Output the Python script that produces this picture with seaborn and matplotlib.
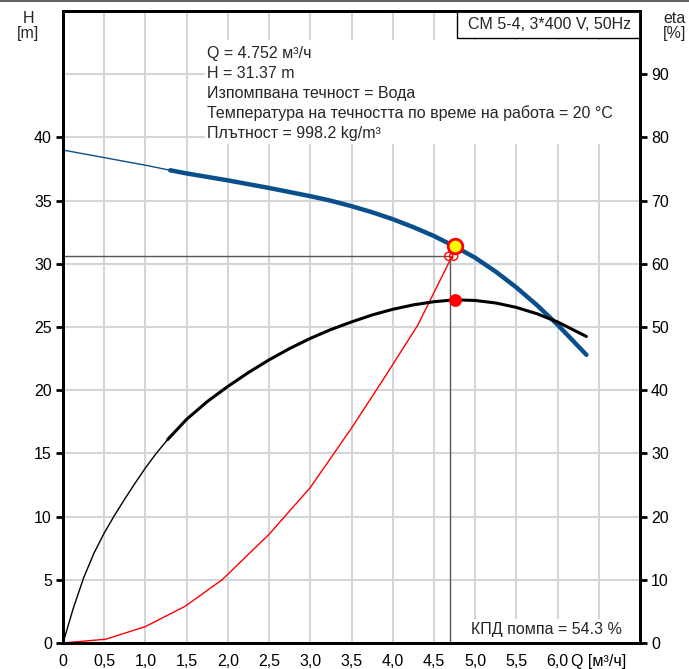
import matplotlib.pyplot as plt
import seaborn as sns
from matplotlib.lines import Line2D
from matplotlib.patches import Rectangle

# pump head curve H(Q)
q_head = [0, 0.5, 1.0, 1.3, 1.5, 2.0, 2.5, 3.0, 3.25, 3.5, 3.75, 4.0, 4.25, 4.5, 4.752,
          5.0, 5.25, 5.5, 5.75, 6.0, 6.35]
head = [39.0, 38.4, 37.8, 37.4, 37.15, 36.6, 36.0, 35.35, 34.99, 34.56, 34.08, 33.53, 32.9,
        32.2, 31.37, 30.48, 29.38, 28.13, 26.73, 25.18, 22.8]

# pump efficiency eta(Q), right axis
q_eta = [0, 0.125, 0.25, 0.375, 0.5, 0.625, 0.75, 0.875, 1.0, 1.125, 1.27, 1.5, 1.75, 2.0,
         2.25, 2.5, 2.75, 3.0, 3.25, 3.5, 3.75, 4.0, 4.25, 4.5, 4.752, 5.0, 5.25, 5.5, 5.75,
         6.0, 6.35]
eta = [0, 5.5, 10.3, 14.2, 17.4, 20.2, 22.8, 25.3, 27.7, 29.9, 32.2, 35.4, 38.2, 40.6,
       42.8, 44.8, 46.6, 48.2, 49.6, 50.8, 51.9, 52.8, 53.5, 54.0, 54.3, 54.2, 53.8, 53.1, 52.1,
       50.8, 48.5]

# system curve
q_sys = [0, 0.52, 1.0, 1.48, 1.93, 2.5, 3.0, 3.5, 3.88, 4.3, 4.72]
h_sys = [0, 0.3, 1.3, 2.9, 5.0, 8.6, 12.3, 17.0, 20.8, 25.1, 30.6]

duty_q, duty_h, duty_eta = 4.752, 31.37, 54.3
cross_q, cross_h = 4.69, 30.6
sys_marks_q = [4.68, 4.74]
sys_marks_h = [30.6, 30.6]
thin_until = 1.3
eta_thin_until = 1.27

x_ticks = [0, 0.5, 1.0, 1.5, 2.0, 2.5, 3.0, 3.5, 4.0, 4.5, 5.0, 5.5, 6.0, 6.5]
x_labels = ["0", "0,5", "1,0", "1,5", "2,0", "2,5", "3,0", "3,5", "4,0", "4,5",
            "5,0", "5,5", "6,0", "Q [м³/ч]"]
h_ticks = [0, 5, 10, 15, 20, 25, 30, 35, 40]
h_grid = [45]
eta_ticks = [0, 10, 20, 30, 40, 50, 60, 70, 80, 90]

info_lines = [
    "Q = 4.752 м³/ч",
    "H = 31.37 m",
    "Изпомпвана течност = Вода",
    "Температура на течността по време на работа = 20 °C",
    "Плътност = 998.2 kg/m³",
]

BLUE = "#0a4f8c"
FS = 11.5
W, H = 689, 669

sns.set_style("white")
plt.rcParams["font.family"] = ["Liberation Sans", "DejaVu Sans"]
plt.rcParams["font.size"] = FS

fig = plt.figure(figsize=(W / 100, H / 100), dpi=100)
ax = fig.add_axes([63 / W, 26 / H, 577 / W, 632 / H])
ax.set_xlim(0, 7)
ax.set_ylim(0, 50)
ax.set_axisbelow(True)

ax.set_xticks(x_ticks)
ax.set_xticklabels(x_labels)
ax.set_yticks(h_ticks)
ax.set_yticks(h_grid, minor=True)
ax.grid(True, which="both", color="#d3d6d9", linewidth=1.5)
ax.tick_params(which="major", direction="out", length=5, width=2, pad=3,
               labelsize=FS, colors="black")
ax.tick_params(which="minor", length=0)
for s in ax.spines.values():
    s.set_linewidth(2)
    s.set_color("black")

# white backgrounds behind the text blocks (they hide the grid)
ax.add_patch(Rectangle((142 / 577, 499 / 632), 435 / 577, 104 / 632,
                       transform=ax.transAxes, facecolor="white", edgecolor="none", zorder=1))
ax.add_patch(Rectangle((404 / 577, 0), 173 / 577, 24 / 632,
                       transform=ax.transAxes, facecolor="white", edgecolor="none", zorder=1))

# system curve + operating cross lines
sns.lineplot(x=q_sys, y=h_sys, ax=ax, color="red", linewidth=1, estimator=None, sort=False)
sns.lineplot(x=[0, cross_q, cross_q], y=[cross_h, cross_h, 0], ax=ax, color="#555555",
             linewidth=1, estimator=None, sort=False)

# head curve: thin outside the recommended range, thick inside
q_thin = [q for q in q_head if q <= thin_until]
h_thin = head[:len(q_thin)]
q_thick = [q for q in q_head if q >= thin_until]
h_thick = head[len(head) - len(q_thick):]
sns.lineplot(x=q_thin, y=h_thin, ax=ax, color=BLUE, linewidth=1, estimator=None)
sns.lineplot(x=q_thick, y=h_thick, ax=ax, color=BLUE, linewidth=3.2, estimator=None)

sns.scatterplot(x=sys_marks_q, y=sys_marks_h, ax=ax, s=34, facecolor="none",
                edgecolor="red", linewidth=1, zorder=4)
sns.scatterplot(x=[duty_q], y=[duty_h], ax=ax, s=110, color="#ffff00",
                edgecolor="red", linewidth=2, zorder=5)

# efficiency on the right axis
ax2 = ax.twinx()
ax2.set_ylim(0, 100)
ax2.set_yticks(eta_ticks)
ax2.tick_params(direction="out", length=5, width=2, pad=3, labelsize=FS, colors="black")
for s in ax2.spines.values():
    s.set_linewidth(2)
    s.set_color("black")
q_eta_thin = [q for q in q_eta if q <= eta_thin_until]
eta_thin = eta[:len(q_eta_thin)]
q_eta_thick = [q for q in q_eta if q >= eta_thin_until]
eta_thick = eta[len(eta) - len(q_eta_thick):]
sns.lineplot(x=q_eta_thin, y=eta_thin, ax=ax2, color="black", linewidth=1, estimator=None)
sns.lineplot(x=q_eta_thick, y=eta_thick, ax=ax2, color="black", linewidth=2.2, estimator=None)
sns.scatterplot(x=[duty_q], y=[duty_eta], ax=ax2, s=85, color="red", edgecolor="red",
                linewidth=0, zorder=5)
ax.set_xlabel("")
ax.set_ylabel("")
ax2.set_ylabel("")

# info text
for i, line in enumerate(info_lines):
    ax.text(144 / 577, (643 - (58 + 20 * i)) / 632, line, transform=ax.transAxes,
            ha="left", va="baseline", fontsize=FS, zorder=6)

# model box
ax.add_patch(Rectangle((394 / 577, 605 / 632), 183 / 577, 27 / 632, transform=ax.transAxes,
                       facecolor="white", edgecolor="black", linewidth=1, zorder=6,
                       clip_on=False))
ax.text(486 / 577, (643 - 29) / 632, "CM 5-4, 3*400 V, 50Hz", transform=ax.transAxes,
        ha="center", va="baseline", fontsize=FS, zorder=7)

ax.text(559 / 577, 9 / 632, "КПД помпа = 54.3 %", transform=ax.transAxes,
        ha="right", va="baseline", fontsize=FS, zorder=6)

# axis titles
fig.text(28 / W, 1 - 23 / H, "H", ha="center", va="baseline", fontsize=FS)
fig.text(28 / W, 1 - 38 / H, "[m]", ha="center", va="baseline", fontsize=FS)
fig.text(663 / W, 1 - 23 / H, "eta", ha="left", va="baseline", fontsize=FS)
fig.text(663 / W, 1 - 38 / H, "[%]", ha="left", va="baseline", fontsize=FS)

fig.add_artist(Line2D([0, 1], [1 - 0.5 / H, 1 - 0.5 / H], transform=fig.transFigure,
                      color="#444444", linewidth=1.2))

fig.savefig("out.png", dpi=100)
